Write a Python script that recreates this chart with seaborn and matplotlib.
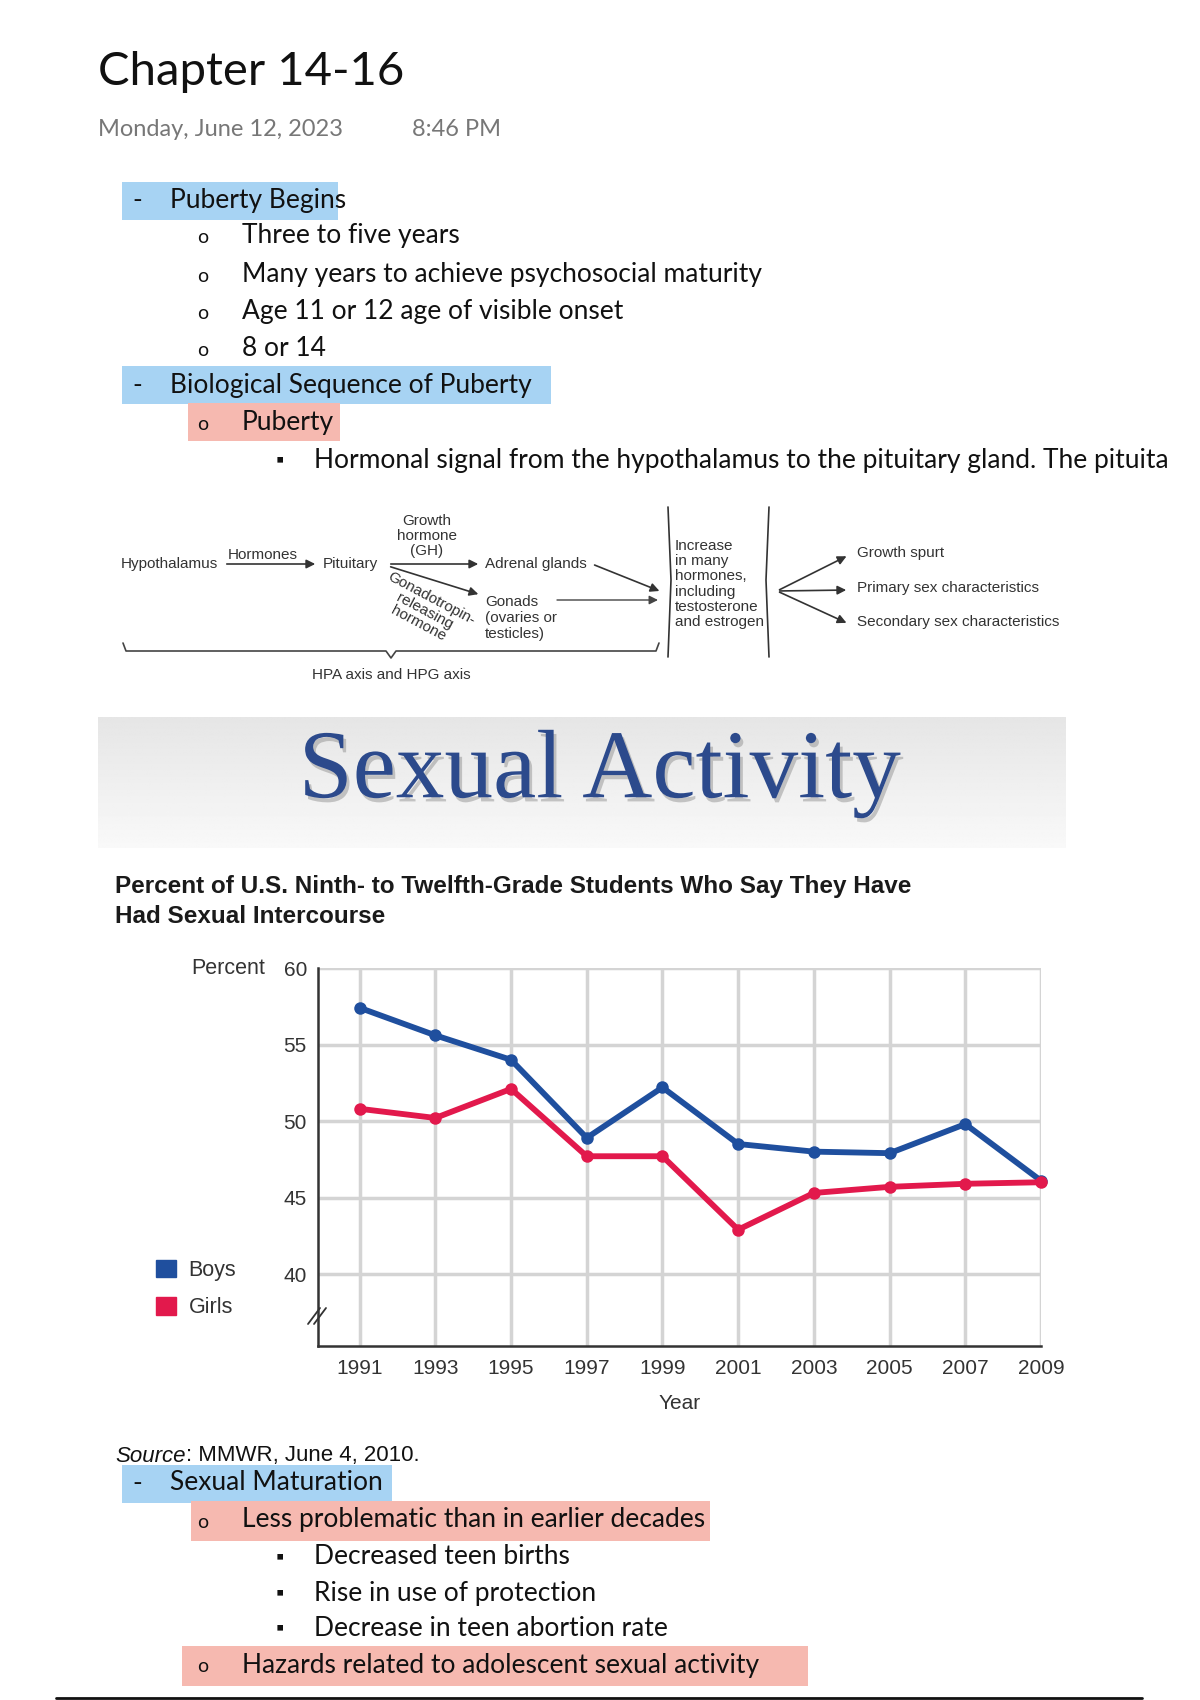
import numpy as np
import pandas as pd
import matplotlib
matplotlib.use("Agg")
import matplotlib.pyplot as plt
import seaborn as sns
from matplotlib.patches import Rectangle, Patch
import matplotlib.patheffects as pe

# Data

years = [1991, 1993, 1995, 1997, 1999, 2001, 2003, 2005, 2007, 2009]
boys = [57.4, 55.6, 54.0, 48.9, 52.2, 48.5, 48.0, 47.9, 49.8, 46.1]
girls = [50.8, 50.2, 52.1, 47.7, 47.7, 42.9, 45.3, 45.7, 45.9, 46.0]
groups = ["Boys", "Girls"]
y_ticks = [40, 45, 50, 55, 60]

df = pd.DataFrame({
    "Year": years * 2,
    "Percent": boys + girls,
    "Group": ["Boys"] * len(years) + ["Girls"] * len(years),
})

palette = {"Boys": "#1f4f9e", "Girls": "#e2194c"}

sns.set_theme(style="white")
plt.rcParams["font.family"] = ["Lato", "DejaVu Sans"]

W, H = 1200, 1700
fig = plt.figure(figsize=(12, 17), dpi=100)

# page layer in pixel coords
bg = fig.add_axes([0, 0, 1, 1], zorder=0)
bg.set_xlim(0, W)
bg.set_ylim(H, 0)
bg.axis("off")

body = dict(fontsize=19, color="#111111", va="center")
blue_hl = "#a7d3f3"
pink_hl = "#f6b9b0"


def highlight(x0, x1, y, color, h=38):
    bg.add_patch(Rectangle((x0, y - h / 2), x1 - x0, h, color=color, zorder=0, lw=0))


def circle_bullet(y):
    bg.text(203, y + 2, "o", fontsize=14, color="#111111", va="center", ha="center")


def square_bullet(y):
    bg.text(280, y, "\u25aa", fontsize=15, color="#111111", va="center", ha="center")


# Header
bg.text(98, 72, "Chapter 14-16", fontsize=34, color="#111111", va="center")
bg.text(98, 129, "Monday, June 12, 2023", fontsize=17, color="#777777", va="center")
bg.text(412, 129, "8:46 PM", fontsize=17, color="#777777", va="center")

# Notes top
highlight(122, 338, 201, blue_hl)
bg.text(132, 200, "-", **body)
bg.text(170, 200, "Puberty Begins", **body)
for yy, s in [(235, "Three to five years"),
              (274, "Many years to achieve psychosocial maturity"),
              (311, "Age 11 or 12 age of visible onset"),
              (348, "8 or 14")]:
    circle_bullet(yy)
    bg.text(242, yy, s, **body)
highlight(122, 551, 385, blue_hl)
bg.text(132, 385, "-", **body)
bg.text(170, 385, "Biological Sequence of Puberty", **body)
highlight(188, 340, 422, pink_hl)
circle_bullet(422)
bg.text(242, 422, "Puberty", **body)
square_bullet(460)
bg.text(314, 460, "Hormonal signal from the hypothalamus to the pituitary gland. The pituita",
        clip_on=True, **body)

# Diagram
dg = dict(fontsize=11, color="#333333", family=["Liberation Sans", "DejaVu Sans"])
arr = dict(arrowstyle="-|>", color="#333333", lw=1.2, mutation_scale=13)
bg.text(121, 564, "Hypothalamus", va="center", **dg)
bg.text(228, 555, "Hormones", va="center", **dg)
bg.annotate("", xy=(318, 564), xytext=(224, 564), arrowprops=arr)
bg.text(323, 564, "Pituitary", va="center", **dg)
bg.text(427, 536, "Growth\nhormone\n(GH)", va="center", ha="center", linespacing=1.1, **dg)
bg.annotate("", xy=(481, 564), xytext=(388, 564), arrowprops=arr)
bg.annotate("", xy=(481, 595), xytext=(388, 566), arrowprops=arr)
bg.text(425, 611, "Gonadotropin-\nreleasing\nhormone", va="center", ha="center",
        rotation=-28, linespacing=1.0, **dg)
bg.text(485, 564, "Adrenal glands", va="center", **dg)
bg.text(485, 618, "Gonads\n(ovaries or\ntesticles)", va="center", linespacing=1.15, **dg)
bg.annotate("", xy=(662, 592), xytext=(592, 564), arrowprops=arr)
bg.annotate("", xy=(658, 600), xytext=(557, 600),
            arrowprops=dict(arrowstyle="-|>", color="#444444", lw=1.0, mutation_scale=13,
                            shrinkA=0, shrinkB=0))
bg.plot([668, 671, 668], [507, 580, 657], color="#333333", lw=1.2)
bg.plot([769, 766, 769], [507, 580, 657], color="#333333", lw=1.2)
bg.text(675, 584, "Increase\nin many\nhormones,\nincluding\ntestosterone\nand estrogen",
        va="center", linespacing=1.1, **dg)
for ty, s in [(555, "Growth spurt"), (590, "Primary sex characteristics"),
              (624, "Secondary sex characteristics")]:
    bg.annotate("", xy=(849, ty), xytext=(777, 591), arrowprops=arr)
    bg.text(857, ty - 2, s, va="center", **dg)
bg.plot([123, 126, 386, 391, 396, 656, 659], [643, 651, 651, 658, 651, 651, 643],
        color="#444444", lw=1.2)
bg.text(391, 675, "HPA axis and HPG axis", va="center", ha="center", **dg)

# Banner
grad = np.linspace(0.90, 0.975, 100).reshape(-1, 1) * np.ones((1, 50))
bg.imshow(grad, cmap="gray", vmin=0, vmax=1, extent=(98, 1066, 848, 717), aspect="auto", zorder=0)
bg.set_xlim(0, W)
bg.set_ylim(H, 0)
bg.text(600, 774, "Sexual Activity", fontsize=70, color="#2c4a8c", ha="center", va="center",
        family=["Liberation Serif", "DejaVu Serif"],
        path_effects=[pe.withSimplePatchShadow(offset=(2, -3), shadow_rgbFace="#888888", alpha=0.45)])

# Chart title
ct = dict(fontsize=17.5, fontweight="bold", color="#1a1a1a", va="center",
          family=["Liberation Sans", "DejaVu Sans"])
bg.text(115, 886, "Percent of U.S. Ninth- to Twelfth-Grade Students Who Say They Have", **ct)
bg.text(115, 916, "Had Sexual Intercourse", **ct)

# Chart
ax = fig.add_axes([318 / W, 1 - 1346 / H, (1041 - 318) / W, (1346 - 968) / H], zorder=2)
ax.patch.set_alpha(0)
sns.lineplot(data=df, x="Year", y="Percent", hue="Group", palette=palette, marker="o",
             linewidth=4.2, markersize=9, markeredgewidth=0, legend=False, ax=ax)
for ln in ax.lines:
    ln.set_clip_on(False)
ax.set_xlim(1989.9, 2009)
ax.set_ylim(35.3, 60)
ax.set_xticks(years)
ax.set_yticks(y_ticks)
ax.grid(True, color="#d4d4d4", lw=2.5)
ax.set_axisbelow(True)
for side in ["top", "right"]:
    ax.spines[side].set_visible(False)
for side in ["left", "bottom"]:
    ax.spines[side].set_color("#333333")
    ax.spines[side].set_linewidth(1.8)
tick_font = ["Liberation Sans", "DejaVu Sans"]
ax.tick_params(axis="both", length=0, labelsize=15, labelcolor="#333333")
ax.tick_params(axis="x", pad=9)
ax.tick_params(axis="y", pad=8)
for lab in ax.get_xticklabels() + ax.get_yticklabels():
    lab.set_family(tick_font)
ax.set_xlabel("Year", fontsize=15, color="#333333", labelpad=12, family=tick_font)
ax.set_ylabel("")

# axis break marks
for dx in [-3, 3]:
    bg.plot([311 + dx, 323 + dx], [1324, 1308], color="#333333", lw=1.3, zorder=5)

bg.text(265, 968, "Percent", fontsize=15.5, color="#333333", ha="right", va="center", family=tick_font)

handles = [Patch(color=palette[g]) for g in groups]
ax.legend(handles, groups, loc="center left", bbox_to_anchor=(137, 1289),
          bbox_transform=bg.transData, frameon=False, handlelength=0.9, handleheight=0.9,
          handletextpad=0.6, labelspacing=0.75, prop={"family": tick_font, "size": 15.5},
          labelcolor="#333333")

# source line: italic word followed by the rest
src1 = bg.text(115, 1456, "Source", fontsize=16, style="italic", color="#111111", va="center",
               family=tick_font)
renderer = fig.canvas.get_renderer()
bb = src1.get_window_extent(renderer=renderer)
x_end = bg.transData.inverted().transform((bb.x1, bb.y0))[0]
bg.text(x_end, 1456, ": MMWR, June 4, 2010.", fontsize=16, color="#111111", va="center",
        family=tick_font)

# Notes bottom
highlight(122, 392, 1484, blue_hl)
bg.text(132, 1483, "-", **body)
bg.text(170, 1483, "Sexual Maturation", **body)
highlight(191, 710, 1521, pink_hl, h=40)
circle_bullet(1520)
bg.text(242, 1520, "Less problematic than in earlier decades", **body)
for yy, s in [(1557, "Decreased teen births"), (1593, "Rise in use of protection"),
              (1628, "Decrease in teen abortion rate")]:
    square_bullet(yy)
    bg.text(314, yy, s, **body)
highlight(182, 808, 1666, pink_hl, h=40)
circle_bullet(1665)
bg.text(242, 1665, "Hazards related to adolescent sexual activity", **body)
bg.text(314, 1714, "Earlier puberty/weaker social taboos \u2192 sex at earlier age", clip_on=True, **body)
bg.plot([56, 1142], [1698, 1698], color="#111111", lw=2, zorder=6)

fig.savefig("out.png", dpi=100)
